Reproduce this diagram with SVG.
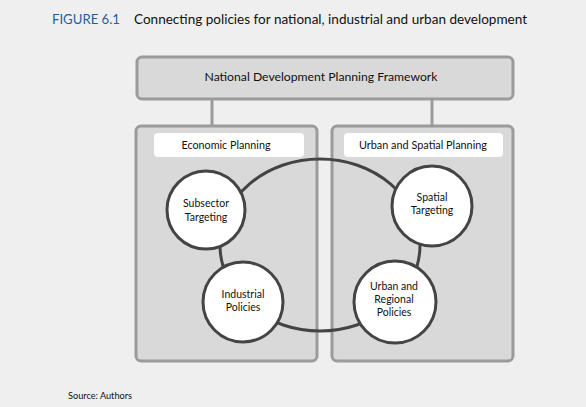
<svg xmlns="http://www.w3.org/2000/svg" width="586" height="407" viewBox="0 0 586 407">
<style>
.bg{fill:#efefef}
.frame{fill:#d9d9d9;stroke:#9b9b9b;stroke-width:3}
.link{stroke:#9b9b9b;stroke-width:3;fill:none}
.lbl{fill:#ffffff}
.circ{fill:#ffffff;stroke:#444444;stroke-width:3}
.ring{fill:none;stroke:#444444;stroke-width:3}
text{font-family:Lato,"Open Sans","Liberation Sans",sans-serif;fill:#111111}
.t{font-size:11.5px;text-anchor:middle}
.l{font-size:10.5px;text-anchor:middle}
.c{font-size:10.5px;text-anchor:middle}
</style>
<rect class="bg" x="0" y="0" width="586" height="407"/>
<g id="title">
<text x="52" y="24" font-size="14" style="fill:#1f5f99" textLength="68" lengthAdjust="spacingAndGlyphs">FIGURE 6.1</text>
<text x="134" y="24" font-size="14" textLength="393" lengthAdjust="spacingAndGlyphs">Connecting policies for national, industrial and urban development</text>
</g>
<g id="connectors">
<line class="link" x1="212" y1="99" x2="212" y2="126"/>
<line class="link" x1="432" y1="99" x2="432" y2="126"/>
</g>
<g id="national">
<rect class="frame" x="137" y="57" width="376" height="42" rx="5"/>
<text class="t" x="321" y="81" textLength="233" lengthAdjust="spacingAndGlyphs">National Development Planning Framework</text>
</g>
<g id="economic">
<rect class="frame" x="136" y="126" width="181" height="235" rx="5"/>
<rect class="lbl" x="154" y="133" width="150" height="24" rx="4"/>
<text class="l" x="226" y="149" textLength="89" lengthAdjust="spacingAndGlyphs">Economic Planning</text>
</g>
<g id="urbanspatial">
<rect class="frame" x="332" y="126" width="181" height="235" rx="5"/>
<rect class="lbl" x="344" y="133" width="159" height="24" rx="4"/>
<text class="l" x="423" y="149" textLength="128" lengthAdjust="spacingAndGlyphs">Urban and Spatial Planning</text>
</g>
<g id="cycle">
<ellipse class="ring" cx="320" cy="245" rx="100" ry="86"/>
</g>
<g id="subsector">
<circle class="circ" cx="206" cy="210" r="39"/>
<text class="c" x="206" y="207">Subsector</text>
<text class="c" x="206" y="221">Targeting</text>
</g>
<g id="industrial">
<circle class="circ" cx="243" cy="302" r="40"/>
<text class="c" x="243" y="298">Industrial</text>
<text class="c" x="243" y="311">Policies</text>
</g>
<g id="spatial">
<circle class="circ" cx="432" cy="206" r="40"/>
<text class="c" x="432" y="201">Spatial</text>
<text class="c" x="432" y="214">Targeting</text>
</g>
<g id="urbanregional">
<circle class="circ" cx="395" cy="302" r="41"/>
<text class="c" x="394" y="290">Urban and</text>
<text class="c" x="394" y="303">Regional</text>
<text class="c" x="394" y="316">Policies</text>
</g>
<g id="source">
<text x="68" y="399" font-size="9" textLength="64" lengthAdjust="spacingAndGlyphs">Source: Authors</text>
</g>
</svg>
